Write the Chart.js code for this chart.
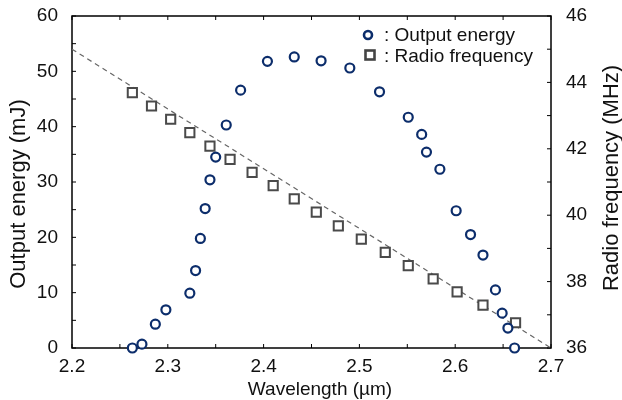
<!DOCTYPE html>
<html>
<head>
<meta charset="utf-8">
<script src="https://cdn.jsdelivr.net/npm/chart.js@4.4.0/dist/chart.umd.min.js"></script>
<style>
body { margin: 0; background: #fff; }
</style>
</head>
<body>
<canvas id="energyChart" width="622" height="400"></canvas>
<script>
// output energy (left axis)
var energyWavelength = [2.263, 2.273, 2.287, 2.298, 2.323, 2.329, 2.334, 2.339, 2.344, 2.350,
	2.361, 2.376, 2.404, 2.432, 2.460, 2.490, 2.521, 2.551, 2.565, 2.570,
	2.584, 2.601, 2.616, 2.629, 2.642, 2.649, 2.655, 2.662];
var outputEnergy = [0, 0.7, 4.3, 6.9, 9.9, 14.0, 19.8, 25.2, 30.4, 34.5,
	40.3, 46.6, 51.8, 52.6, 51.9, 50.6, 46.3, 41.7, 38.6, 35.4,
	32.3, 24.8, 20.5, 16.8, 10.5, 6.3, 3.6, 0];

// radio frequency (right axis)
var rfWavelength = [2.263, 2.283, 2.303, 2.323, 2.344, 2.365, 2.388, 2.410, 2.432,
	2.455, 2.478, 2.502, 2.527, 2.551, 2.577, 2.602, 2.629, 2.663];
var radioFrequency = [43.69, 43.29, 42.89, 42.49, 42.08, 41.68, 41.29, 40.89, 40.49,
	40.09, 39.68, 39.28, 38.88, 38.48, 38.08, 37.69, 37.29, 36.76];

// linear fit through the rf points
var fitWavelength = [2.2, 2.7];
var fitFrequency = [45.0, 36.0];

var xTicks = [2.2, 2.3, 2.4, 2.5, 2.6, 2.7];
var energyTicks = [0, 10, 20, 30, 40, 50, 60];
var rfTicks = [36, 38, 40, 42, 44, 46];

var fontName = '"Liberation Sans", Arial, sans-serif';
var navy = '#0c2d6b';
var gray = '#4a4a4a';
var textColor = '#111';

function toPoints(xs, ys) {
	return xs.map(function (x, i) { return { x: x, y: ys[i] }; });
}

function withMinor(ticks) {
	var out = [];
	for (var i = 0; i < ticks.length; i++) {
		out.push(ticks[i]);
		if (i < ticks.length - 1) out.push((ticks[i] + ticks[i + 1]) / 2);
	}
	return out;
}

function fixTicks(list) {
	return function (scale) {
		scale.ticks = list.map(function (v) { return { value: v }; });
	};
}

// fixed axis size, and no extra label padding pushing the chart area
function fitWidth(w) {
	return function (s) {
		s.width = w;
		s.paddingTop = 0;
		s.paddingBottom = 0;
	};
}

// frame + inward ticks
var frameTicks = {
	id: 'frameTicks',
	beforeDatasetsDraw: function (chart) {
		var ctx = chart.ctx, a = chart.chartArea;
		var sx = chart.scales.x, sy = chart.scales.y, sy1 = chart.scales.y1;
		var len = 4;
		ctx.save();
		ctx.strokeStyle = '#000';
		ctx.lineWidth = 1.5;
		ctx.strokeRect(a.left, a.top, a.right - a.left, a.bottom - a.top);
		ctx.lineWidth = 1;
		ctx.beginPath();
		withMinor(xTicks).forEach(function (v) {
			var px = sx.getPixelForValue(v);
			ctx.moveTo(px, a.bottom); ctx.lineTo(px, a.bottom - len);
			ctx.moveTo(px, a.top); ctx.lineTo(px, a.top + len);
		});
		withMinor(energyTicks).forEach(function (v) {
			var py = sy.getPixelForValue(v);
			ctx.moveTo(a.left, py); ctx.lineTo(a.left + len, py);
		});
		withMinor(rfTicks).forEach(function (v) {
			var py = sy1.getPixelForValue(v);
			ctx.moveTo(a.right, py); ctx.lineTo(a.right - len, py);
		});
		ctx.stroke();
		ctx.restore();
	}
};

// axis titles and legend
var titlesLegend = {
	id: 'titlesLegend',
	afterDraw: function (chart) {
		var ctx = chart.ctx;
		ctx.save();
		ctx.fillStyle = textColor;

		ctx.font = '19px ' + fontName;
		ctx.textAlign = 'center';
		ctx.textBaseline = 'alphabetic';
		ctx.fillText('Wavelength (\u00b5m)', 320, 395);

		ctx.font = '22px ' + fontName;
		ctx.save();
		ctx.translate(25, 194);
		ctx.rotate(-Math.PI / 2);
		ctx.fillText('Output energy (mJ)', 0, 0);
		ctx.restore();
		ctx.save();
		ctx.translate(618, 178);
		ctx.rotate(-Math.PI / 2);
		ctx.fillText('Radio frequency (MHz)', 0, 0);
		ctx.restore();

		// legend
		ctx.lineWidth = 2.6;
		ctx.strokeStyle = navy;
		ctx.fillStyle = '#fff';
		ctx.beginPath();
		ctx.arc(368, 35, 4, 0, Math.PI * 2);
		ctx.fill();
		ctx.stroke();
		ctx.strokeStyle = '#444';
		ctx.fillRect(365.5, 50.5, 9, 9);
		ctx.strokeRect(365.5, 50.5, 9, 9);

		ctx.fillStyle = textColor;
		ctx.font = '19px ' + fontName;
		ctx.textAlign = 'left';
		ctx.textBaseline = 'middle';
		ctx.fillText(': Output energy', 384, 36);
		ctx.fillText(': Radio frequency', 384, 57);
		ctx.restore();
	}
};

var tickFont = { family: fontName, size: 19 };

var ctx = document.getElementById('energyChart').getContext('2d');
var energyChart = new Chart(ctx, {
	type: 'scatter',
	data: {
		datasets: [{
			label: 'Output energy',
			data: toPoints(energyWavelength, outputEnergy),
			yAxisID: 'y',
			pointStyle: 'circle',
			pointRadius: 4.5,
			borderWidth: 2.2,
			borderColor: navy,
			backgroundColor: '#fff',
			clip: false,
			order: 1
		}, {
			label: 'Radio frequency',
			data: toPoints(rfWavelength, radioFrequency),
			yAxisID: 'y1',
			pointStyle: 'rect',
			pointRadius: 6.5,
			borderWidth: 2,
			borderColor: gray,
			backgroundColor: '#fff',
			clip: false,
			order: 2
		}, {
			label: 'fit',
			data: toPoints(fitWavelength, fitFrequency),
			yAxisID: 'y1',
			showLine: true,
			pointRadius: 0,
			borderColor: '#666',
			borderWidth: 1.2,
			borderDash: [5, 4],
			order: 3
		}]
	},
	options: {
		responsive: false,
		devicePixelRatio: 1,
		animation: false,
		layout: { padding: { top: 16, left: 0, right: 0, bottom: 0 } },
		plugins: {
			legend: { display: false },
			tooltip: { enabled: false }
		},
		scales: {
			x: {
				type: 'linear',
				min: 2.2,
				max: 2.7,
				afterBuildTicks: fixTicks(xTicks),
				afterFit: function (s) { s.height = 52; },
				grid: { display: false, drawTicks: false },
				border: { display: false },
				ticks: {
					font: tickFont,
					color: textColor,
					padding: 7,
					maxRotation: 0,
					callback: function (v) { return v.toFixed(1); }
				}
			},
			y: {
				position: 'left',
				min: 0,
				max: 60,
				afterBuildTicks: fixTicks(energyTicks),
				afterFit: fitWidth(72),
				grid: { display: false, drawTicks: false },
				border: { display: false },
				ticks: { font: tickFont, color: textColor, padding: 14 }
			},
			y1: {
				position: 'right',
				min: 36,
				max: 46,
				afterBuildTicks: fixTicks(rfTicks),
				afterFit: fitWidth(71),
				grid: { display: false, drawTicks: false },
				border: { display: false },
				ticks: { font: tickFont, color: textColor, padding: 15 }
			}
		}
	},
	plugins: [frameTicks, titlesLegend]
});
</script>
</body>
</html>
